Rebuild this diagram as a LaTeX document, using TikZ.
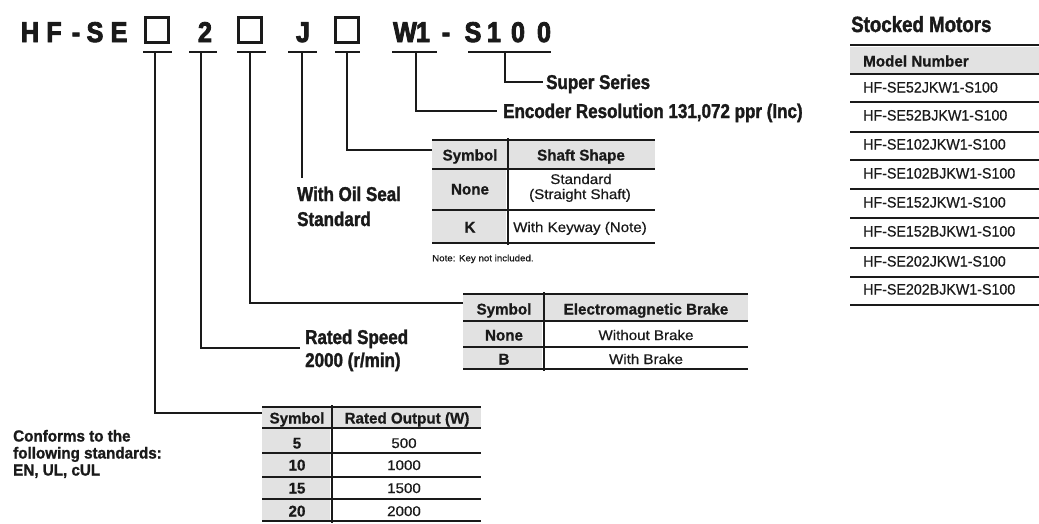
\documentclass[tikz,border=0pt]{standalone}
\usepackage{fontspec}
\setmainfont{Liberation Sans}
\newfontfamily\fTitle{Liberation Sans}[FakeStretch=0.88, FakeBold=3]
\newfontfamily\fLab{Liberation Sans}[FakeStretch=0.85, FakeBold=1.6]
\newfontfamily\fConf{Liberation Sans}[FakeStretch=0.95, FakeBold=1.2]
\newfontfamily\fCond{Liberation Sans}[FakeStretch=0.98, FakeBold=0.8]
\newfontfamily\fRow{Liberation Sans}[FakeStretch=0.95, FakeBold=0.6]
\newfontfamily\fBody{Liberation Sans}[FakeStretch=1.08, FakeBold=0.5]
\definecolor{ink}{HTML}{1A1A1A}
\definecolor{cellgray}{HTML}{E2E2E2}
\tikzset{
  ttl/.style={font=\fTitle\bfseries\fontsize{28.5}{28}\selectfont, inner sep=0pt, anchor=base, text=ink},
  sqbox/.style={draw=ink, line width=2.2pt, minimum width=23pt, minimum height=25pt, inner sep=0pt},
  uline/.style={draw=ink, line width=2.6pt},
  conn/.style={draw=ink, line width=2.2pt},
  lab/.style={font=\fLab\bfseries\fontsize{20}{24}\selectfont, inner sep=0pt, anchor=west, text height=14pt, text depth=0pt, text=ink},
  conf/.style={font=\fConf\bfseries\fontsize{16}{17}\selectfont, inner sep=0pt, anchor=west, text height=11pt, text depth=0pt, text=ink},
  th/.style={font=\fCond\bfseries\fontsize{15.5}{18}\selectfont, inner sep=0pt, text height=11pt, text depth=0pt, text=ink},
  td/.style={font=\fBody\fontsize{14}{16}\selectfont, inner sep=0pt, text height=10pt, text depth=0pt, text=ink},
  tdl/.style={font=\fRow\fontsize{15}{16}\selectfont, inner sep=0pt, anchor=west, text height=11pt, text depth=0pt, text=ink},
  rule/.style={draw=ink, line width=2.4pt},
  sepl/.style={draw=ink, line width=1.8pt},
}
\begin{document}
\begin{tikzpicture}[x=1pt,y=-1pt]
\useasboundingbox[fill=white] (0,0) rectangle (1039,523);

% ---------- title ----------
\node[ttl] (tH) at (30,42) {H};
\node[ttl] (tF) at (54,42) {F};
\node[ttl] (tD) at (76,42) {-};
\node[ttl] (tS) at (95,42) {S};
\node[ttl] (tE) at (119,42) {E};
\node[sqbox] (b1) at (157,30) {};
\node[ttl] (t2) at (205,42) {2};
\node[sqbox] (b2) at (250,30) {};
\node[ttl] (tJ) at (303,42) {J};
\node[sqbox] (b3) at (347,30) {};
\node[ttl] (tW) at (405,42) {W};
\node[ttl] (t1a) at (423,42) {1};
\node[ttl] (tD2) at (446,42) {-};
\node[ttl] (tS2) at (473,42) {S};
\node[ttl] (t1b) at (494,42) {1};
\node[ttl] (t0a) at (518,42) {0};
\node[ttl] (t0b) at (544,42) {0};

% underlines
\foreach \a/\b in {143/172,189/217,237/266,288/317,335/360,392/437,468/551}
  \draw[uline] (\a,52) -- (\b,52);

\coordinate (c1) at (155,52);
\coordinate (c2) at (201,52);
\coordinate (c3) at (250,52);
\coordinate (c4) at (302,52);
\coordinate (c5) at (347,52);
\coordinate (c6) at (416,52);
\coordinate (c7) at (505,52);

% ---------- labels ----------
\node[lab] (sup) at (546,82) {Super Series};
\node[lab] (enc) at (503,111) {Encoder Resolution 131,072 ppr (Inc)};
\node[lab] (oil1) at (297,194) {With Oil Seal};
\node[lab] (oil2) at (297,219) {Standard};
\node[lab] (rs1) at (305,337) {Rated Speed};
\node[lab] (rs2) at (305,360) {2000 (r/min)};
\node[conf] (cf1) at (13,436) {Conforms to the};
\node[conf] (cf2) at (13,453) {following standards:};
\node[conf] (cf3) at (13,470) {EN, UL, cUL};

\coordinate (jEnd) at (302,178);
\coordinate (shaftL) at (432,150);
\coordinate (brakeL) at (463,303);
\coordinate (rsL) at (300,348);
\coordinate (roL) at (262,413);

% ---------- connectors ----------
\draw[conn] (c7) |- ([xshift=-3pt]sup.west);
\draw[conn] (c6) |- ([xshift=-6pt]enc.west);
\draw[conn] (c5) |- (shaftL);
\draw[conn] (c4) -- (jEnd);
\draw[conn] (c3) |- (brakeL);
\draw[conn] (c2) |- (rsL);
\draw[conn] (c1) |- (roL);

% ---------- shaft shape table ----------
\fill[cellgray] (432,141) rectangle (655,168);
\fill[cellgray] (432,170) rectangle (506,209);
\fill[cellgray] (432,211) rectangle (506,242);
\foreach \y in {140,169,210,243} \draw[rule] (432,\y) -- (655,\y);
\draw[sepl] (508,138) -- (508,245);
\node[th] (s1) at (470,155) {Symbol};
\node[th] (s2) at (581,155) {Shaft Shape};
\node[th] (s3) at (470,189) {None};
\node[td] (s4) at (581,179) {Standard};
\node[td] (s5) at (580,194) {(Straight Shaft)};
\node[th] (s6) at (470,227) {K};
\node[td] (s7) at (580,227) {With Keyway (Note)};
\node[font=\fBody\fontsize{9}{10}\selectfont, inner sep=0pt, anchor=west, text height=6.5pt, text depth=0pt, text=ink] (note) at (432,258) {Note: Key not included.};

% ---------- brake table ----------
\fill[cellgray] (463,295) rectangle (748,320);
\fill[cellgray] (463,322) rectangle (542,346);
\fill[cellgray] (463,348) rectangle (542,368);
\foreach \y in {294,321,347,369} \draw[rule] (463,\y) -- (748,\y);
\draw[sepl] (544,292) -- (544,371);
\node[th] (e1) at (504,309) {Symbol};
\node[th] (e2) at (646,309) {Electromagnetic Brake};
\node[th] (e3) at (504,335) {None};
\node[td] (e4) at (646,335) {Without Brake};
\node[th] (e5) at (504,359) {B};
\node[td] (e6) at (646,359) {With Brake};

% ---------- rated output table ----------
\fill[cellgray] (262,408) rectangle (481,427);
\foreach \ya/\yb in {429/452,454/476,478/498,500/520}
  \fill[cellgray] (262,\ya) rectangle (330,\yb);
\foreach \y in {407,428,453,477,499,521} \draw[rule] (262,\y) -- (481,\y);
\draw[sepl] (332,405) -- (332,523);
\node[th] (r1) at (297,418) {Symbol};
\node[th] (r2) at (407,418) {Rated Output (W)};
\node[th] (r3) at (297,443) {5};
\node[td] (r4) at (404,443) {500};
\node[th] (r5) at (297,465) {10};
\node[td] (r6) at (404,465) {1000};
\node[th] (r7) at (297,488) {15};
\node[td] (r8) at (404,488) {1500};
\node[th] (r9) at (297,511) {20};
\node[td] (r10) at (404,511) {2000};

% ---------- stocked motors ----------
\node[font=\fLab\bfseries\fontsize{22}{24}\selectfont, inner sep=0pt, anchor=base west, text=ink] (sm) at (851,32) {Stocked Motors};
\fill[cellgray] (850,47) rectangle (1039,73);
\foreach \y in {45,74,102,132,160,189,218,248,277,305} \draw[rule] (850,\y) -- (1039,\y);
\node[th, anchor=west] (m0) at (863,61) {Model Number};
\node[tdl] (m1) at (863,87) {HF-SE52JKW1-S100};
\node[tdl] (m2) at (863,115) {HF-SE52BJKW1-S100};
\node[tdl] (m3) at (863,144) {HF-SE102JKW1-S100};
\node[tdl] (m4) at (863,173) {HF-SE102BJKW1-S100};
\node[tdl] (m5) at (863,202) {HF-SE152JKW1-S100};
\node[tdl] (m6) at (863,231) {HF-SE152BJKW1-S100};
\node[tdl] (m7) at (863,261) {HF-SE202JKW1-S100};
\node[tdl] (m8) at (863,289) {HF-SE202BJKW1-S100};
\end{tikzpicture}
\end{document}
